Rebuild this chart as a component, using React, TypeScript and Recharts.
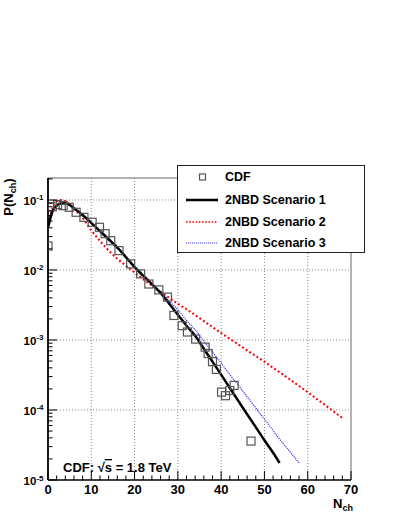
import React from "react";
import {
  ComposedChart,
  Line,
  Scatter,
  XAxis,
  YAxis,
  CartesianGrid,
  ReferenceLine,
} from "recharts";

// CDF charged multiplicity, sqrt(s) = 1.8 TeV
const cdfN = [0, 1, 2.2, 3.5, 4.9, 6.5, 8.3, 10.2, 11.9, 13.2, 14.5, 16.4, 19.1, 21.4, 23.3, 25.6, 27.6, 29.1, 31.0, 32.2, 34.1, 36.3, 37.0, 38.0, 38.9, 40.1, 41.0, 42.0, 43.0, 46.9];
const cdfP = [0.022, 0.08, 0.086, 0.083, 0.0786, 0.0667, 0.0565, 0.048, 0.0407, 0.033, 0.0262, 0.0189, 0.0122, 0.0088, 0.0063, 0.0052, 0.0041, 0.00224, 0.0016, 0.0013, 0.00103, 0.00079, 0.00064, 0.00049, 0.00038, 0.00018, 0.00016, 0.00019, 0.000225, 0.000036];

// 2NBD scenario 1 (black)
const sc1N = [0, 1, 2, 3, 4, 5, 6, 8, 10, 12, 14, 16, 18, 20, 22, 24, 26, 28, 30, 32, 34, 36, 38, 40, 42, 44, 46, 48, 50, 52, 53.5];
const sc1P = [0.04, 0.068, 0.083, 0.089, 0.09, 0.085, 0.076, 0.061, 0.047, 0.036, 0.0275, 0.021, 0.0153, 0.011, 0.0083, 0.0063, 0.0047, 0.0033, 0.0023, 0.0016, 0.00115, 0.00075, 0.00049, 0.00032, 0.000206, 0.000134, 0.000087, 0.000057, 0.000037, 0.0000245, 0.0000175];

// 2NBD scenario 2 (red)
const sc2N = [0, 1, 2, 3, 4, 5, 6, 7, 8, 10, 12, 14, 16, 18, 20, 22, 24, 26, 28, 30, 32, 34, 36, 38, 40, 42, 44, 46, 48, 50, 52, 54, 56, 58, 60, 62, 64, 66, 68];
const sc2P = [0.042, 0.075, 0.095, 0.1, 0.096, 0.087, 0.076, 0.065, 0.055, 0.037, 0.026, 0.019, 0.0145, 0.0115, 0.0092, 0.0074, 0.006, 0.0049, 0.004, 0.0033, 0.00275, 0.00227, 0.00186, 0.00153, 0.00126, 0.00104, 0.00086, 0.00071, 0.00059, 0.00049, 0.0004, 0.00033, 0.00027, 0.00022, 0.00018, 0.000145, 0.000118, 0.000095, 0.000077];

// 2NBD scenario 3 (blue)
const sc3N = [0, 1, 2, 3, 4, 5, 6, 8, 10, 12, 14, 16, 18, 20, 22, 24, 26, 28, 30, 32, 34, 36, 38, 40, 42, 44, 46, 48, 50, 52, 54, 56, 58];
const sc3P = [0.04, 0.068, 0.083, 0.089, 0.09, 0.085, 0.075, 0.06, 0.046, 0.035, 0.0265, 0.0202, 0.015, 0.0109, 0.0083, 0.0064, 0.0049, 0.0036, 0.0027, 0.0019, 0.0014, 0.00097, 0.00067, 0.00047, 0.00032, 0.000224, 0.000155, 0.000107, 0.000074, 0.000051, 0.000035, 0.000025, 0.0000175];

const xLabels = [0, 10, 20, 30, 40, 50, 60, 70];
const yLabels = [1e-5, 1e-4, 1e-3, 1e-2, 1e-1];

const Y_MIN = 1e-5;
const Y_MAX = 0.206;
const FONT = '"Liberation Sans", Arial, Helvetica, sans-serif';

const zip = (n: number[], p: number[]) => n.map((v, i) => ({ n: v, p: p[i] }));

const cdfData = zip(cdfN, cdfP);
const sc1Data = zip(sc1N, sc1P);
const sc2Data = zip(sc2N, sc2P);
const sc3Data = zip(sc3N, sc3P);

// minor ticks every 2 on x, 1..9 per decade on y
const xTicks = Array.from({ length: 36 }, (_, i) => i * 2);
const yTicks = yLabels
  .flatMap((d) => [1, 2, 3, 4, 5, 6, 7, 8, 9].map((m) => m * d))
  .filter((v) => v <= Y_MAX);

const XTick = (props: any) => {
  const { x, y, payload } = props;
  const major = xLabels.includes(payload.value);
  return (
    <g>
      <line x1={x} x2={x} y1={y} y2={y - (major ? 9 : 4.5)} stroke="#000" strokeWidth={1} />
      {major && (
        <text x={x} y={y + 13.5} textAnchor="middle" fontFamily={FONT} fontWeight="bold" fontSize={13} fill="#000">
          {payload.value}
        </text>
      )}
    </g>
  );
};

const YTick = (props: any) => {
  const { x, y, payload } = props;
  const v = payload.value;
  const major = yLabels.some((d) => Math.abs(v - d) / d < 1e-6);
  const exp = Math.round(Math.log10(v));
  return (
    <g>
      <line x1={x} x2={x + (major ? 9 : 4.5)} y1={y} y2={y} stroke="#000" strokeWidth={1} />
      {major && (
        <text x={x - 4.5} y={y + 5} textAnchor="end" fontFamily={FONT} fontWeight="bold" fontSize={11.5} fill="#000">
          10
          <tspan dy={-4.5} fontSize={8}>
            {exp}
          </tspan>
        </text>
      )}
    </g>
  );
};

const Square = (props: any) => {
  const { cx, cy } = props;
  if (cx == null || cy == null) return null;
  return <rect x={cx - 4} y={cy - 4} width={8} height={8} fill="none" stroke="#555" strokeWidth={1.2} />;
};

const legendRows = [
  { label: "CDF", kind: "square" },
  { label: "2NBD Scenario 1", kind: "black" },
  { label: "2NBD Scenario 2", kind: "red" },
  { label: "2NBD Scenario 3", kind: "blue" },
];

function LegendBox() {
  const rowY = [11, 34, 56, 77];
  return (
    <div
      style={{
        position: "absolute",
        left: 177,
        top: 165,
        width: 188,
        height: 88,
        boxSizing: "border-box",
        border: "1px solid #222",
        background: "#fff",
        fontFamily: FONT,
        fontWeight: "bold",
        fontSize: 12.5,
      }}
    >
      {legendRows.map((r, i) => (
        <div key={r.label} style={{ position: "absolute", left: 0, top: rowY[i] - 8, height: 16, width: 186 }}>
          <svg width={40} height={16} style={{ position: "absolute", left: 6, top: 0 }}>
            {r.kind === "square" && <rect x={15.5} y={5} width={6} height={6} fill="none" stroke="#555" strokeWidth={1.2} />}
            {r.kind === "black" && <line x1={2} x2={34} y1={8} y2={8} stroke="#000" strokeWidth={2.5} />}
            {r.kind === "red" && <line x1={2} x2={34} y1={8} y2={8} stroke="#ff0000" strokeWidth={1.6} strokeDasharray="1.6 1.6" />}
            {r.kind === "blue" && <line x1={2} x2={34} y1={8} y2={8} stroke="#3030ff" strokeWidth={1} strokeDasharray="1 1" />}
          </svg>
          <span style={{ position: "absolute", left: 47, top: 0, lineHeight: "16px", color: "#000" }}>{r.label}</span>
        </div>
      ))}
    </div>
  );
}

export default function App() {
  return (
    <div style={{ position: "absolute", left: 0, top: 0, width: 399, height: 516, background: "#fff" }}>
      <ComposedChart
        width={399}
        height={516}
        margin={{ top: 178, right: 48, bottom: 0, left: 0 }}
      >
        <CartesianGrid
          stroke="#8a8a8a"
          strokeDasharray="1 2"
          horizontalValues={yLabels.slice(1)}
          verticalValues={xLabels.slice(1, -1)}
        />
        <XAxis
          dataKey="n"
          type="number"
          domain={[0, 70]}
          ticks={xTicks}
          interval={0}
          height={36}
          tickSize={0}
          tickMargin={0}
          tickLine={false}
          tick={<XTick />}
          axisLine={{ stroke: "#000", strokeWidth: 1.5 }}
          allowDataOverflow
        />
        <YAxis
          dataKey="p"
          type="number"
          scale="log"
          domain={[Y_MIN, Y_MAX]}
          ticks={yTicks}
          interval={0}
          width={48}
          tickSize={0}
          tickMargin={0}
          tickLine={false}
          tick={<YTick />}
          axisLine={{ stroke: "#000", strokeWidth: 1.8 }}
          allowDataOverflow
        />
        <ReferenceLine y={Y_MAX} stroke="#666" strokeWidth={1} />
        <ReferenceLine x={70} stroke="#666" strokeWidth={1} />
        <Line data={sc2Data} dataKey="p" type="monotone" stroke="#ff0000" strokeWidth={2} strokeDasharray="2 2.3" dot={false} isAnimationActive={false} />
        <Line data={sc3Data} dataKey="p" type="monotone" stroke="#3030ff" strokeWidth={1.2} strokeDasharray="1.2 1" dot={false} isAnimationActive={false} />
        <Line data={sc1Data} dataKey="p" type="monotone" stroke="#000" strokeWidth={2.5} dot={false} isAnimationActive={false} />
        <Scatter data={cdfData} dataKey="p" shape={<Square />} isAnimationActive={false} />
      </ComposedChart>
      <svg width={399} height={516} style={{ position: "absolute", left: 0, top: 0, pointerEvents: "none" }}>
        <text transform="translate(13,197) rotate(-90)" textAnchor="middle" fontFamily={FONT} fontWeight="bold" fontSize={13} fill="#000">
          P(N
          <tspan dy={3} fontSize={9}>ch</tspan>
          <tspan dy={-3}>)</tspan>
        </text>
        <text x={333} y={508} fontFamily={FONT} fontWeight="bold" fontSize={13} fill="#000">
          N
          <tspan dy={3} fontSize={9}>ch</tspan>
        </text>
        <text x={63} y={472} fontFamily={FONT} fontWeight="bold" fontSize={13} fill="#000">
          CDF: √
          <tspan textDecoration="overline">s</tspan> = 1.8 TeV
        </text>
      </svg>
      <LegendBox />
    </div>
  );
}
